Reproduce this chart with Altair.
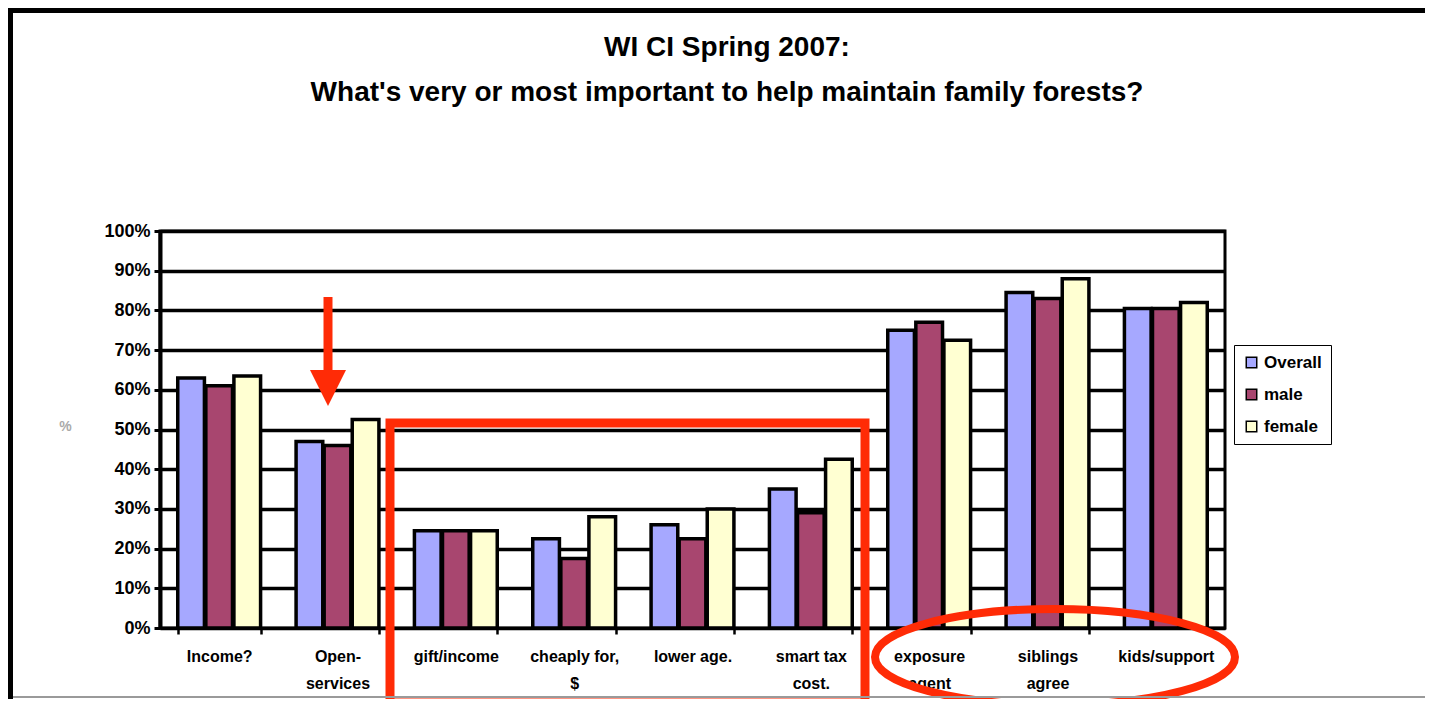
import altair as alt
import pandas as pd

categories = ["Income?", "Open-|services", "gift/income", "cheaply for,|$", "lower age.",
              "smart tax|cost.", "exposure|agent", "siblings|agree", "kids/support"]
series = ["Overall", "male", "female"]
overall = [63, 47, 24.5, 22.5, 26, 35, 75, 84.5, 80.5]
male = [61, 46, 24.5, 17.5, 22.5, 29, 77, 83, 80.5]
female = [63.5, 52.5, 24.5, 28, 30, 42.5, 72.5, 88, 82]
colors = ["#A6A8FF", "#A8466F", "#FFFFD2"]
title_lines = ["WI CI Spring 2007:",
               "What's very or most important to help maintain family forests?"]
y_ticks = [i / 10 for i in range(11)]

rows = []
for s, vals in zip(series, [overall, male, female]):
    for c, v in zip(categories, vals):
        rows.append({"category": c, "series": s, "value": v / 100})
df = pd.DataFrame(rows)

FONT = "Liberation Sans"
RED = "#FF2B06"

bars = alt.Chart(df).mark_bar(stroke="black", strokeWidth=3.5).encode(
    x=alt.X("category:N", sort=categories,
            scale=alt.Scale(paddingInner=0.30, paddingOuter=0.15),
            axis=alt.Axis(title=None, labelExpr="split(datum.label, '|')",
                          labelAngle=0, labelFont=FONT, labelFontSize=16,
                          labelFontWeight="bold", labelColor="black",
                          labelLineHeight=27, labelPadding=14, tickBand="extent",
                          tickSize=6, tickWidth=2.5, tickColor="black",
                          domainColor="black", domainWidth=3)),
    xOffset=alt.XOffset("series:N", sort=series,
                        scale=alt.Scale(paddingInner=0.05)),
    y=alt.Y("value:Q", scale=alt.Scale(domain=[0, 1], nice=False),
            axis=alt.Axis(values=y_ticks, format=".0%", title="%",
                          titleAngle=0, titleX=-95, titleY=202,
                          titleColor="#aaaaaa", titleFontSize=14,
                          titleFontWeight="bold", titleFont=FONT,
                          labelFont=FONT, labelFontSize=18, labelFontWeight="bold",
                          labelColor="black", labelPadding=4, tickSize=6,
                          tickWidth=3, tickColor="black", domainColor="black",
                          domainWidth=4, grid=True, gridColor="black",
                          gridWidth=3.5, gridOpacity=1)),
    color=alt.Color("series:N", sort=series,
                    scale=alt.Scale(domain=series, range=colors),
                    legend=alt.Legend(title=None, orient="none", legendX=1074,
                                      legendY=114, labelFont=FONT,
                                      labelFontSize=17, labelFontWeight="bold",
                                      labelColor="black", symbolType="square",
                                      symbolSize=110, symbolStrokeColor="black",
                                      symbolStrokeWidth=1.5, rowPadding=14,
                                      strokeColor="black", padding=9,
                                      fillColor="white")),
)

one = alt.Data(values=[{}])

title1 = alt.Chart(one).mark_text(font=FONT, fontSize=28, fontWeight="bold",
                                  color="black", baseline="middle").encode(
    x=alt.value(567), y=alt.value(-183), text=alt.value(title_lines[0]))
title2 = alt.Chart(one).mark_text(font=FONT, fontSize=28, fontWeight="bold",
                                  color="black", baseline="middle").encode(
    x=alt.value(567), y=alt.value(-138), text=alt.value(title_lines[1]))

arrow_shaft = alt.Chart(one).mark_rule(color=RED, strokeWidth=9).encode(
    x=alt.value(168), y=alt.value(66), y2=alt.value(142))
arrow_head = alt.Chart(one).mark_point(
    shape="M -1 -1 L 1 -1 L 0 1 Z", filled=True, color=RED, opacity=1,
    size=1296).encode(x=alt.value(168), y=alt.value(157))
box = alt.Chart(one).mark_rect(fillOpacity=0, stroke=RED, strokeWidth=9).encode(
    x=alt.value(230), x2=alt.value(705), y=alt.value(192), y2=alt.value(472))
ellipse = alt.Chart(one).mark_point(
    shape="M -1 0 A 1 0.267 0 1 0 1 0 A 1 0.267 0 1 0 -1 0 Z", filled=False,
    stroke=RED, strokeWidth=8, opacity=1, size=129600).encode(
    x=alt.value(895), y=alt.value(426))

frame_top = alt.Chart(one).mark_rect(color="black").encode(
    x=alt.value(-152), x2=alt.value(1300), y=alt.value(-223), y2=alt.value(-218))
frame_left = alt.Chart(one).mark_rect(color="black").encode(
    x=alt.value(-152), x2=alt.value(-147), y=alt.value(-223), y2=alt.value(480))
bottom_line = alt.Chart(one).mark_rule(color="#9a9a9a", strokeWidth=2).encode(
    x=alt.value(-147), x2=alt.value(1300), y=alt.value(466))

chart = alt.layer(
    bars, title1, title2, arrow_shaft, arrow_head, box, ellipse,
    frame_top, frame_left, bottom_line
).properties(
    width=1065, height=397,
    autosize=alt.AutoSizeParams(type="none"),
    padding={"left": 152, "top": 223, "right": 200, "bottom": 71},
    background="white",
).configure_view(stroke="black", strokeWidth=3)

chart.save("out.html", embed_options={"renderer": "svg", "actions": False})
